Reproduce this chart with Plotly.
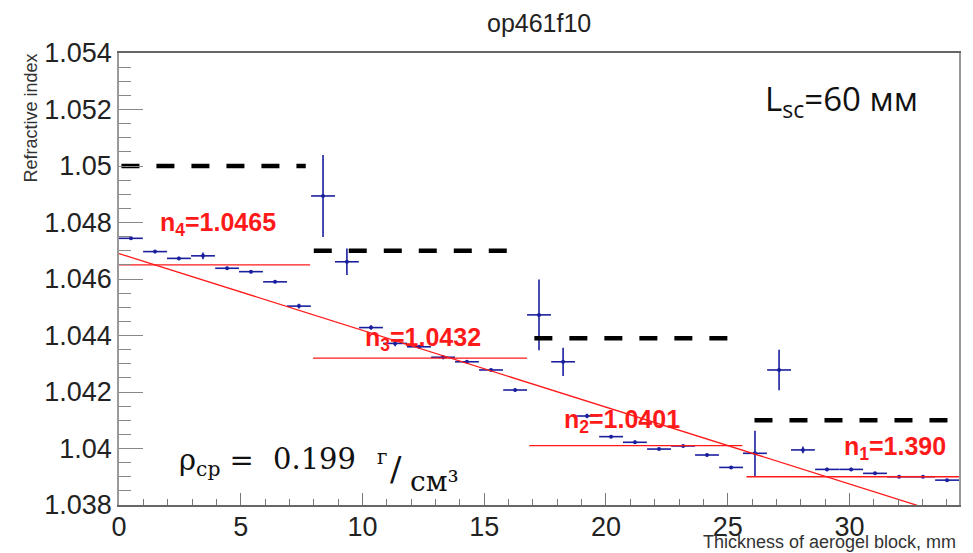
import plotly.graph_objects as go

# ---------------- data ----------------
thickness = [0.49, 1.48, 2.46, 3.45, 4.44, 5.42, 6.41, 7.39, 8.38, 9.36,
             10.35, 11.34, 12.32, 13.31, 14.29, 15.28, 16.27, 17.25, 18.24, 19.22,
             20.21, 21.19, 22.18, 23.17, 24.15, 25.14, 26.12, 27.11, 28.09, 29.08,
             30.07, 31.05, 32.04, 33.02, 34.01]
refr_index = [1.04744, 1.04697, 1.04673, 1.04682, 1.04638, 1.04626, 1.04590, 1.04504, 1.04894, 1.04661,
              1.04428, 1.04372, 1.04360, 1.04323, 1.04307, 1.04278, 1.04207, 1.04473, 1.04307, 1.04115,
              1.04042, 1.04022, 1.03998, 1.04009, 1.03977, 1.03933, 1.03983, 1.04278, 1.03995, 1.03926,
              1.03926, 1.03912, 1.03900, 1.03900, 1.03888]
refr_err = [0.00006, 0.00006, 0.00006, 0.00012, 0.00005, 0.00006, 0.00005, 0.00008, 0.00145, 0.00047,
            0.00008, 0.00010, 0.00005, 0.00007, 0.00005, 0.00005, 0.00005, 0.00125, 0.00050, 0.00008,
            0.00005, 0.00006, 0.00004, 0.00004, 0.00005, 0.00005, 0.00080, 0.00072, 0.00012, 0.00006,
            0.00006, 0.00004, 0.00004, 0.00004, 0.00004]
bin_half_width = 0.49

fit_x = [0.0, 34.5]
fit_y = [1.0469, 1.03752]

layer_n = [1.0465, 1.0432, 1.0401, 1.0390]
layer_x0 = [0.0, 7.97, 16.85, 25.77]
layer_x1 = [7.85, 16.76, 25.6, 34.5]
layer_labels = ["<b>n<sub>4</sub>=1.0465</b>", "<b>n<sub>3</sub>=1.0432</b>",
                "<b>n<sub>2</sub>=1.0401</b>", "<b>n<sub>1</sub>=1.390</b>"]

nominal_n = [1.050, 1.047, 1.0439, 1.041]
nominal_x0 = [0.1, 8.0, 17.06, 26.1]
nominal_x1 = [7.67, 16.07, 25.0, 34.06]

x_ticks = [0, 5, 10, 15, 20, 25, 30]
x_tick_labels = ["0", "5", "10", "15", "20", "25", "30"]
y_ticks = [1.038, 1.040, 1.042, 1.044, 1.046, 1.048, 1.050, 1.052, 1.054]
y_tick_labels = ["1.038", "1.04", "1.042", "1.044", "1.046", "1.048", "1.05", "1.052", "1.054"]

title_text = "op461f10"
x_title = "Thickness of aerogel block, mm"
y_title = "Refractive index"
lsc_text = "L<sub>sc</sub>=60 мм"
rho_lhs = "ρ<sub>ср</sub> ="
rho_val = "0.199"
rho_num = "г"
rho_slash = "/"
rho_den = "см³"

# ---------------- layout geometry ----------------
OFF = 8  # page body margin of the html page
W, H = 973 - OFF, 553 - OFF
ML, MR, MT, MB = 119 - OFF, 14, 53 - OFF, 48
PW, PH = W - ML - MR, H - MT - MB


def px_x(p):
    return (p - OFF - ML) / PW


def px_y(p):
    return (H - MB - (p - OFF)) / PH


BLUE = "#1a1f9e"
RED = "#ff1a1a"

fig = go.Figure()

fig.add_trace(go.Scatter(
    x=thickness, y=refr_index, mode="markers",
    marker=dict(color=BLUE, size=4),
    error_x=dict(type="constant", value=bin_half_width, color=BLUE, thickness=1.6, width=0),
    error_y=dict(type="data", array=refr_err, color=BLUE, thickness=1.6, width=0),
    showlegend=False, hoverinfo="x+y"))

for n, a, b in zip(layer_n, layer_x0, layer_x1):
    fig.add_trace(go.Scatter(x=[a, b], y=[n, n], mode="lines",
                             line=dict(color=RED, width=1.3), showlegend=False))

fig.add_trace(go.Scatter(x=fit_x, y=fit_y, mode="lines",
                         line=dict(color=RED, width=1.3), showlegend=False))

for n, a, b in zip(nominal_n, nominal_x0, nominal_x1):
    fig.add_trace(go.Scatter(x=[a, b], y=[n, n], mode="lines",
                             line=dict(color="black", width=4.5, dash="18px,17px"),
                             showlegend=False))

annotations = []
label_pos = [(158, 224), (363, 339), (562, 421), (842, 448)]
for txt, (lx, ly) in zip(layer_labels, label_pos):
    annotations.append(dict(xref="paper", yref="paper", x=px_x(lx), y=px_y(ly),
                            xanchor="left", yanchor="middle", showarrow=False, text=txt,
                            font=dict(family="Liberation Sans", size=25, color=RED)))

annotations.append(dict(xref="paper", yref="paper", x=px_x(539), y=px_y(23),
                        xanchor="center", yanchor="middle", showarrow=False, text=title_text,
                        font=dict(family="Liberation Sans", size=25, color="#222")))
annotations.append(dict(xref="paper", yref="paper", x=px_x(31), y=px_y(52),
                        xanchor="center", yanchor="top", showarrow=False, text=y_title,
                        textangle=-90,
                        font=dict(family="Liberation Sans", size=18, color="#333")))
annotations.append(dict(xref="paper", yref="paper", x=px_x(958), y=px_y(542),
                        xanchor="right", yanchor="middle", showarrow=False, text=x_title,
                        font=dict(family="Liberation Sans", size=18, color="#333")))
annotations.append(dict(xref="paper", yref="paper", x=px_x(920), y=px_y(100),
                        xanchor="right", yanchor="middle", showarrow=False, text=lsc_text,
                        font=dict(family="Open Sans", size=33, color="#111")))
# density formula, built from pieces to mimic the fraction layout
annotations.append(dict(xref="paper", yref="paper", x=px_x(177), y=px_y(462),
                        xanchor="left", yanchor="middle", showarrow=False, text=rho_lhs,
                        font=dict(family="DejaVu Serif", size=29, color="#111")))
annotations.append(dict(xref="paper", yref="paper", x=px_x(271), y=px_y(459),
                        xanchor="left", yanchor="middle", showarrow=False, text=rho_val,
                        font=dict(family="DejaVu Serif", size=29, color="#111")))
annotations.append(dict(xref="paper", yref="paper", x=px_x(375), y=px_y(457),
                        xanchor="left", yanchor="middle", showarrow=False, text=rho_num,
                        font=dict(family="DejaVu Serif", size=20, color="#111")))
annotations.append(dict(xref="paper", yref="paper", x=px_x(388), y=px_y(469),
                        xanchor="left", yanchor="middle", showarrow=False, text=rho_slash,
                        font=dict(family="DejaVu Serif", size=34, color="#111")))
annotations.append(dict(xref="paper", yref="paper", x=px_x(408), y=px_y(481),
                        xanchor="left", yanchor="middle", showarrow=False, text=rho_den,
                        font=dict(family="DejaVu Serif", size=28, color="#111")))

fig.update_layout(
    width=W, height=H,
    margin=dict(l=ML, r=MR, t=MT, b=MB, pad=0),
    paper_bgcolor="white", plot_bgcolor="white",
    showlegend=False,
    annotations=annotations,
    xaxis=dict(range=[0, 34.5], tickvals=x_ticks, ticktext=x_tick_labels,
               ticks="inside", ticklen=12, tickwidth=1, tickcolor="#777",
               minor=dict(dtick=1, ticks="inside", ticklen=6, tickcolor="#777", showgrid=False),
               showline=True, linecolor="#666", linewidth=1.5, mirror=True,
               showgrid=False, zeroline=False, automargin=False, ticklabelstandoff=-3,
               tickfont=dict(family="Liberation Sans", size=27, color="#222")),
    yaxis=dict(range=[1.038, 1.054], tickvals=y_ticks, ticktext=y_tick_labels,
               ticks="inside", ticklen=24, tickwidth=1, tickcolor="#888",
               minor=dict(dtick=0.0005, tick0=1.038, ticks="inside", ticklen=12,
                          tickcolor="#888", showgrid=False),
               showline=True, linecolor="#999", linewidth=1.5, mirror=True,
               showgrid=False, zeroline=False, automargin=False,
               tickfont=dict(family="Liberation Sans", size=27, color="#222")),
)

fig.write_html("out.html")
